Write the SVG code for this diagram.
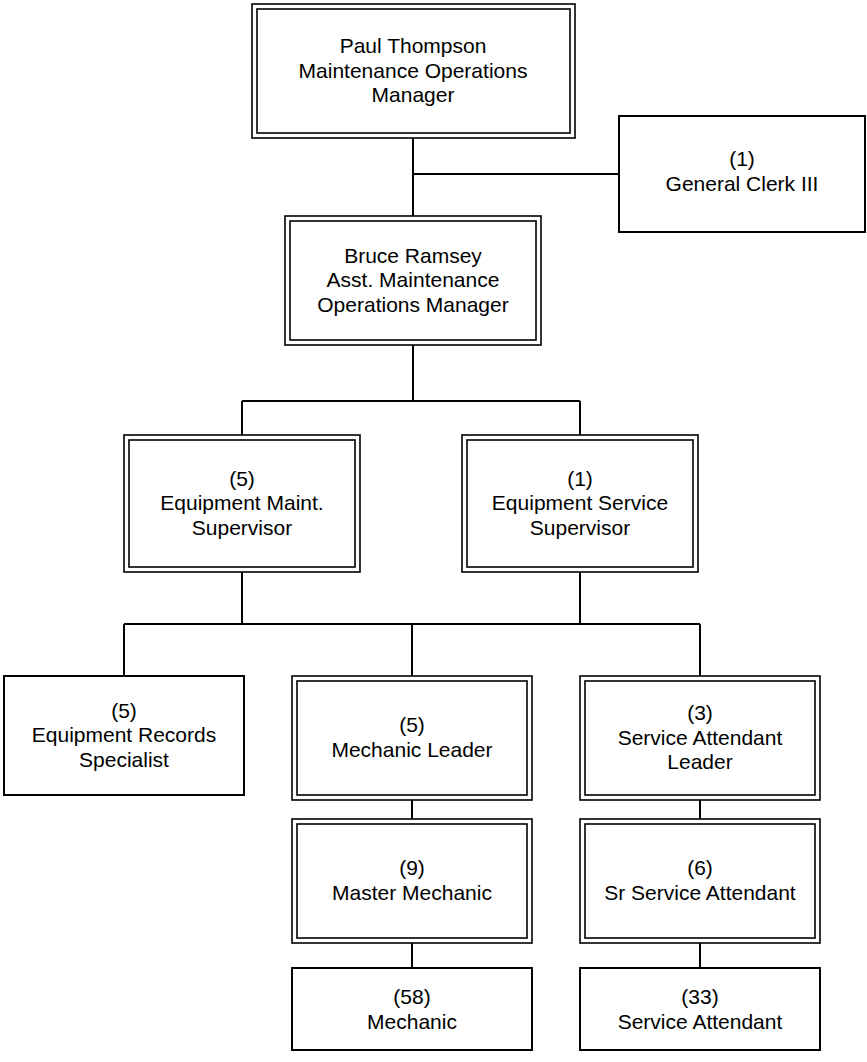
<svg xmlns="http://www.w3.org/2000/svg" width="867" height="1062" viewBox="0 0 867 1062">
<style>
.o{fill:#fff;stroke:#000;stroke-width:1.6}
.i{fill:none;stroke:#000;stroke-width:1.6}
.s{fill:#fff;stroke:#000;stroke-width:2}
.c{fill:none;stroke:#000;stroke-width:2}
text{font-family:"Liberation Sans",Arial,sans-serif;font-size:21px;fill:#000;text-anchor:middle}
</style>
<rect width="867" height="1062" fill="#fff"/>
<g id="connectors">
<path class="c" d="M413 138V216M413 174H619M413 345V401M242 401H580M242 401V435M580 401V435M242 572V624M580 572V624M124 624H700M124 624V676M412 624V676M700 624V676M412 800V819M412 943V968M700 800V819M700 943V968"/>
</g>
<g id="n1">
<rect class="o" x="252" y="4" width="323" height="134"/>
<rect class="i" x="257" y="9" width="313" height="124"/>
<text x="413" y="53">Paul Thompson</text>
<text x="413" y="77.5">Maintenance Operations</text>
<text x="413" y="102">Manager</text>
</g>
<g id="n2">
<rect class="s" x="619" y="116" width="246" height="116"/>
<text x="742" y="166">(1)</text>
<text x="742" y="190.5">General Clerk III</text>
</g>
<g id="n3">
<rect class="o" x="285" y="216" width="256" height="129"/>
<rect class="i" x="290" y="221" width="246" height="119"/>
<text x="413" y="262.5">Bruce Ramsey</text>
<text x="413" y="287">Asst. Maintenance</text>
<text x="413" y="311.5">Operations Manager</text>
</g>
<g id="n4">
<rect class="o" x="124" y="435" width="236" height="137"/>
<rect class="i" x="129" y="440" width="226" height="127"/>
<text x="242" y="485.5">(5)</text>
<text x="242" y="510">Equipment Maint.</text>
<text x="242" y="534.5">Supervisor</text>
</g>
<g id="n5">
<rect class="o" x="462" y="435" width="236" height="137"/>
<rect class="i" x="467" y="440" width="226" height="127"/>
<text x="580" y="485.5">(1)</text>
<text x="580" y="510">Equipment Service</text>
<text x="580" y="534.5">Supervisor</text>
</g>
<g id="n6">
<rect class="s" x="4" y="676" width="240" height="119"/>
<text x="124" y="717.5">(5)</text>
<text x="124" y="742">Equipment Records</text>
<text x="124" y="766.5">Specialist</text>
</g>
<g id="n7">
<rect class="o" x="292" y="676" width="240" height="124"/>
<rect class="i" x="297" y="681" width="230" height="114"/>
<text x="412" y="732">(5)</text>
<text x="412" y="757">Mechanic Leader</text>
</g>
<g id="n8">
<rect class="o" x="580" y="676" width="240" height="124"/>
<rect class="i" x="585" y="681" width="230" height="114"/>
<text x="700" y="720">(3)</text>
<text x="700" y="744.5">Service Attendant</text>
<text x="700" y="769">Leader</text>
</g>
<g id="n9">
<rect class="o" x="292" y="819" width="240" height="124"/>
<rect class="i" x="297" y="824" width="230" height="114"/>
<text x="412" y="875">(9)</text>
<text x="412" y="900">Master Mechanic</text>
</g>
<g id="n10">
<rect class="o" x="580" y="819" width="240" height="124"/>
<rect class="i" x="585" y="824" width="230" height="114"/>
<text x="700" y="875">(6)</text>
<text x="700" y="900">Sr Service Attendant</text>
</g>
<g id="n11">
<rect class="s" x="292" y="968" width="240" height="82"/>
<text x="412" y="1004">(58)</text>
<text x="412" y="1028.5">Mechanic</text>
</g>
<g id="n12">
<rect class="s" x="580" y="968" width="240" height="82"/>
<text x="700" y="1004">(33)</text>
<text x="700" y="1028.5">Service Attendant</text>
</g>
</svg>
